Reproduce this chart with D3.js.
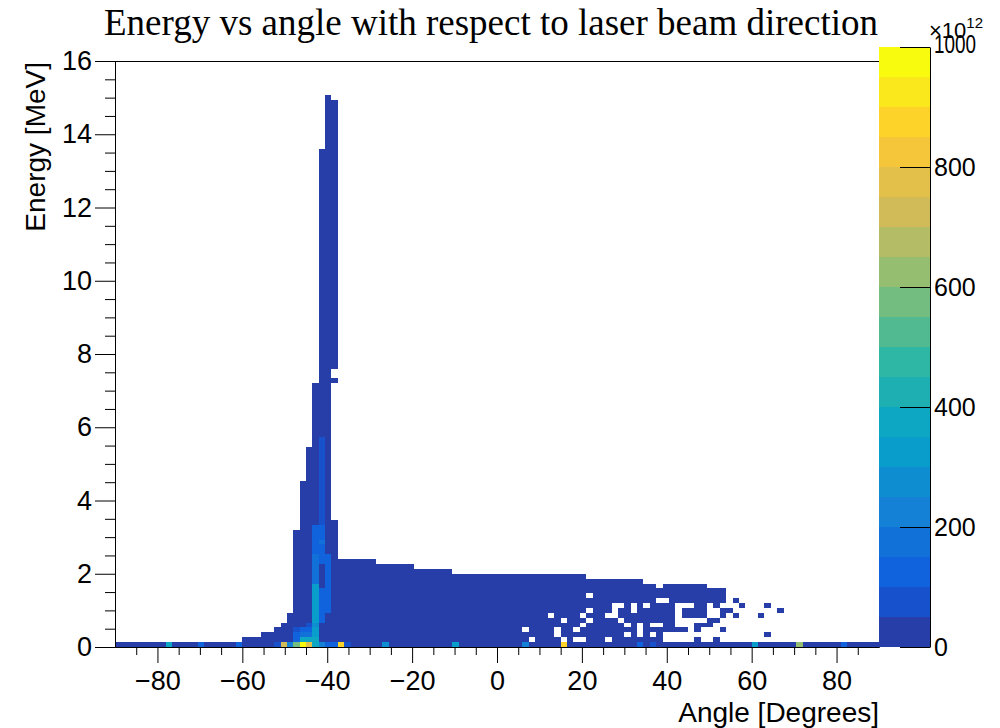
<!DOCTYPE html>
<html>
<head>
<meta charset="utf-8">
<script src="https://cdn.jsdelivr.net/npm/d3@7"></script>
<style>
body { margin: 0; background: #fff; }
svg text { font-family: "Liberation Sans", Arial, sans-serif; fill: #000; }
.axis path, .axis line { stroke: #000; }
</style>
</head>
<body>
<svg id="chart" width="1000" height="728"></svg>
<script>
// histogram binning
var angleMin = -90, angleMax = 90, angleStep = 1.5;
var energyMin = 0, energyMax = 16, energyStep = 0.1333;

// filled columns: [low edge of first angle bin, low edge of last angle bin, top energy MeV]
var columns = [
  [-90, -61.5, 0.15],
  [-60, -57, 0.31],
  [-55.5, -54, 0.44],
  [-52.5, -52.5, 0.57],
  [-51, -51, 0.71],
  [-49.5, -49.5, 0.96],
  [-48, -48, 3.21],
  [-46.5, -46.5, 4.55],
  [-45, -45, 5.48],
  [-43.5, -43.5, 7.22],
  [-42, -42, 13.6],
  [-40.5, -40.5, 15.08],
  [-39, -39, 14.96],
  [-37.5, -30, 2.42],
  [-28.5, -21, 2.29],
  [-19.5, -12, 2.15],
  [-10.5, 19.5, 2.02],
  [21, 33, 1.88],
  [34.5, 48, 1.75],
  [49.5, 52.5, 1.62],
  [54, 88.5, 0.15]
];

// vertical gaps inside a column: [angle, from MeV, to MeV]
var gaps = [
  [-38.25, 3.49, 3.76],
  [-38.25, 3.88, 7.1],
  [-38.25, 7.35, 7.5]
];

// single empty bins: [angle, energy]
var holes = [
  [6.75, 0.47], [8.25, 0.2], [12.75, 0.87], [14.25, 0.33], [14.25, 0.47],
  [15.75, 0.73], [15.75, 0.2], [18.75, 0.2], [20.25, 0.2], [18.75, 0.47],
  [20.25, 0.6], [20.25, 0.87], [21.75, 1.0], [21.75, 0.73], [21.75, 1.4],
  [26.25, 0.2], [26.25, 0.87], [27.75, 0.87], [27.75, 1.0], [27.75, 1.13],
  [29.25, 1.13], [29.25, 0.73], [30.75, 0.6], [30.75, 0.33], [32.25, 1.0],
  [32.25, 1.13], [33.75, 0.33], [33.75, 0.47], [33.75, 0.6], [35.25, 1.13],
  [36.75, 0.6], [36.75, 0.33], [38.25, 0.6], [38.25, 1.27], [38.25, 1.67],
  [39.75, 1.27], [39.75, 0.2], [39.75, 0.33], [41.25, 0.2], [41.25, 0.33],
  [42.75, 0.2], [42.75, 0.33], [42.75, 0.6], [42.75, 0.73], [42.75, 0.87],
  [42.75, 1.0], [42.75, 1.13], [44.25, 1.13], [45.75, 1.13],
  [44.25, 0.2], [44.25, 0.33], [44.25, 0.6], [44.25, 0.73],
  [45.75, 0.2], [45.75, 0.33], [45.75, 0.47], [45.75, 0.6], [45.75, 0.73],
  [47.25, 0.33], [47.25, 0.73], [48.75, 0.2], [48.75, 0.33], [48.75, 0.47], [48.75, 0.73],
  [50.25, 1.13], [50.25, 1.0], [50.25, 0.87], [50.25, 0.47], [50.25, 0.33], [50.25, 0.2],
  [51.75, 1.0], [51.75, 0.87], [51.75, 0.6], [51.75, 0.47], [51.75, 0.33],
  [53.25, 1.13], [53.25, 0.73], [53.25, 0.6], [53.25, 0.33], [53.25, 0.2]
];

// isolated filled bins outside the main body: [angle, energy]
var extraBins = [
  [54.75, 1.0], [56.25, 1.27], [57.75, 1.13], [56.25, 0.87],
  [62.25, 0.87], [63.75, 1.13], [66.75, 1.0], [63.75, 0.33]
];

// bins with a large content: [angle, energy, content x1e12]
var hotBins = [
  [-77.25, 0.07, 370], [-69.75, 0.07, 130], [-60.75, 0.07, 110],
  [-51.75, 0.07, 90], [-50.25, 0.07, 720], [-48.75, 0.07, 220],
  [-47.25, 0.07, 590], [-45.75, 0.07, 990], [-44.25, 0.07, 760],
  [-42.75, 0.07, 360], [-41.25, 0.07, 210], [-39.75, 0.07, 120],
  [-38.25, 0.07, 110], [-36.75, 0.07, 860], [-35.25, 0.07, 80],
  [-26.25, 0.07, 280], [-9.75, 0.07, 300], [6.75, 0.07, 230],
  [15.75, 0.07, 860], [33.75, 0.07, 120], [36.75, 0.07, 90],
  [60.75, 0.07, 340], [71.25, 0.07, 620], [81.75, 0.07, 120],
  [-47.25, 0.2, 120], [-45.75, 0.2, 370], [-44.25, 0.2, 360], [-42.75, 0.2, 350],
  [-47.25, 0.33, 120], [-45.75, 0.33, 170], [-44.25, 0.33, 170], [-42.75, 0.33, 330],
  [-47.25, 0.47, 80], [-45.75, 0.47, 120], [-44.25, 0.47, 110], [-42.75, 0.47, 300],
  [-44.25, 0.6, 80], [-42.75, 0.6, 280]
];
// runs of moderate content along the peak columns: [angle, from MeV, to MeV, content]
var warmRuns = [
  [-42.75, 0.7, 1.8, 300],
  [-42.75, 1.85, 2.6, 170],
  [-42.75, 2.65, 3.3, 120],
  [-41.25, 0.7, 1.5, 120],
  [-41.25, 2.3, 3.3, 120],
  [-41.25, 2.8, 2.9, 170],
  [-41.25, 3.35, 5.6, 70],
  [-39.75, 0.95, 2.4, 110]
];

// kBird palette stops, 20 contour levels
var birdStops = [0, 0.125, 0.25, 0.375, 0.5, 0.625, 0.75, 0.875, 1];
var birdRed = [0.2082, 0.0592, 0.0780, 0.0232, 0.1802, 0.5301, 0.8186, 0.9956, 0.9764];
var birdGreen = [0.1664, 0.3599, 0.5041, 0.6419, 0.7178, 0.7492, 0.7328, 0.7862, 0.9832];
var birdBlue = [0.5293, 0.8684, 0.8385, 0.7914, 0.6425, 0.4662, 0.3499, 0.1968, 0.0539];
var zMax = 1000, nContours = 20;
var paletteTicks = [0, 200, 400, 600, 800, 1000];

var svg = d3.select("#chart");
var margin = {top: 61, right: 121, bottom: 81, left: 115};
var width = 1000 - margin.left - margin.right,
    height = 728 - margin.top - margin.bottom;

var x = d3.scaleLinear().domain([angleMin, angleMax]).range([margin.left, margin.left + width]);
var y = d3.scaleLinear().domain([energyMin, energyMax]).range([margin.top + height, margin.top]);
var z = d3.scaleLinear().domain([0, zMax]).range([margin.top + height, 47]);

var bird = d3.scaleLinear()
  .domain(birdStops)
  .range(birdStops.map(function(s, i) {
    return d3.rgb(birdRed[i] * 255, birdGreen[i] * 255, birdBlue[i] * 255);
  }));

function bandColor(k) {
  var idx = Math.floor((k + 0.99) * 255 / nContours);
  return bird(idx / 254);
}
function valueColor(v) {
  var k = Math.min(nContours - 1, Math.floor(v / (zMax / nContours)));
  return bandColor(k);
}

// build the bin map
var bins = {};
function key(i, r) { return i + "_" + r; }
function binX(a) { return Math.floor((a - angleMin) / angleStep + 1e-6); }
function binY(e) { return Math.floor(e / energyStep); }

columns.forEach(function(c) {
  var i0 = binX(c[0]), i1 = binX(c[1]);
  var nr = Math.round(c[2] / energyStep);
  for (var i = i0; i <= i1; i++)
    for (var r = 0; r < nr; r++) bins[key(i, r)] = {i: i, r: r, v: 5};
});
gaps.forEach(function(g) {
  var i = binX(g[0]);
  for (var r = binY(g[1]); r <= binY(g[2]); r++) delete bins[key(i, r)];
});
holes.forEach(function(h) { delete bins[key(binX(h[0]), binY(h[1]))]; });
extraBins.forEach(function(b) {
  var i = binX(b[0]), r = binY(b[1]);
  bins[key(i, r)] = {i: i, r: r, v: 5};
});
warmRuns.forEach(function(w) {
  var i = binX(w[0]);
  for (var r = binY(w[1]); r <= binY(w[2]); r++)
    if (bins[key(i, r)]) bins[key(i, r)].v = w[3];
});
hotBins.forEach(function(h) {
  var i = binX(h[0]), r = binY(h[1]);
  bins[key(i, r)] = {i: i, r: r, v: h[2]};
});
var cells = Object.keys(bins).map(function(k) { return bins[k]; });

// cells
svg.append("g")
  .attr("shape-rendering", "crispEdges")
  .selectAll("rect")
  .data(cells)
  .enter().append("rect")
    .attr("x", function(d) { return x(angleMin + d.i * angleStep); })
    .attr("width", function(d) { return x(angleMin + (d.i + 1) * angleStep) - x(angleMin + d.i * angleStep); })
    .attr("y", function(d) { return y(Math.min(energyMax, (d.r + 1) * energyStep)); })
    .attr("height", function(d) { return y(d.r * energyStep) - y(Math.min(energyMax, (d.r + 1) * energyStep)); })
    .attr("fill", function(d) { return valueColor(d.v); });

// frame top line
svg.append("line")
  .attr("x1", margin.left).attr("x2", margin.left + width)
  .attr("y1", margin.top + 0.5).attr("y2", margin.top + 0.5)
  .attr("stroke", "#000");

var fontSize = 27;

// x axis
var xMajor = d3.range(-80, 81, 20);
var xMinor = d3.range(-85, 86, 5).filter(function(v) { return xMajor.indexOf(v) < 0; });
svg.append("g")
  .attr("class", "axis")
  .attr("transform", "translate(0," + (margin.top + height) + ")")
  .call(d3.axisBottom(x).tickValues(xMinor).tickSize(8).tickSizeOuter(0).tickFormat(""));
svg.append("g")
  .attr("class", "axis")
  .attr("transform", "translate(0," + (margin.top + height) + ")")
  .call(d3.axisBottom(x).tickValues(xMajor).tickSize(16).tickSizeOuter(0).tickPadding(8))
  .selectAll("text").style("font-size", fontSize + "px");

// y axis
var yMajor = d3.range(0, 17, 2);
var yMinor = d3.range(0, 16.01, 0.5).filter(function(v) { return v % 2 != 0; });
svg.append("g")
  .attr("class", "axis")
  .attr("transform", "translate(" + margin.left + ",0)")
  .call(d3.axisLeft(y).tickValues(yMinor).tickSize(10).tickSizeOuter(0).tickFormat(""));
svg.append("g")
  .attr("class", "axis")
  .attr("transform", "translate(" + margin.left + ",0)")
  .call(d3.axisLeft(y).tickValues(yMajor).tickSize(20).tickSizeOuter(0).tickPadding(3))
  .selectAll("text").style("font-size", fontSize + "px");

// palette
var palX = margin.left + width, palW = 51;
svg.append("g")
  .attr("shape-rendering", "crispEdges")
  .selectAll("rect")
  .data(d3.range(nContours))
  .enter().append("rect")
    .attr("x", palX)
    .attr("width", palW)
    .attr("y", function(k) { return z((k + 1) * zMax / nContours); })
    .attr("height", function(k) { return z(k * zMax / nContours) - z((k + 1) * zMax / nContours); })
    .attr("fill", function(k) { return bandColor(k); });
svg.append("g")
  .attr("class", "axis")
  .attr("transform", "translate(" + (palX + palW) + ",0)")
  .call(d3.axisLeft(z).tickValues(paletteTicks).tickSize(30).tickSizeOuter(0).tickFormat(""));
var palLabels = svg.append("g")
  .attr("class", "axis")
  .attr("transform", "translate(" + (palX + palW) + ",0)")
  .call(d3.axisRight(z).tickValues(paletteTicks).tickSize(0).tickPadding(4).tickFormat(d3.format("d")))
  .call(function(g) { g.select(".domain").remove(); });
palLabels.selectAll("text").style("font-size", "25px");
// the top label is squeezed under the exponent, as in the original
palLabels.selectAll("text")
  .filter(function(d) { return d == zMax; })
  .attr("y", -3)
  .attr("textLength", 42)
  .attr("lengthAdjust", "spacingAndGlyphs");

var expo = svg.append("text")
  .attr("x", palX + palW - 1)
  .attr("y", 38)
  .style("font-size", "22px")
  .text("\u00d710");
expo.append("tspan").attr("dy", -10).style("font-size", "15px").text("12");

// titles
svg.append("text")
  .attr("x", 491)
  .attr("y", 35)
  .attr("text-anchor", "middle")
  .style("font-family", "'Liberation Serif', 'Times New Roman', serif")
  .style("font-size", "37px")
  .text("Energy vs angle with respect to laser beam direction");

svg.append("text")
  .attr("x", margin.left + width)
  .attr("y", 722)
  .attr("text-anchor", "end")
  .style("font-size", "28px")
  .text("Angle [Degrees]");

svg.append("text")
  .attr("transform", "translate(45," + (margin.top + 1) + ") rotate(-90)")
  .attr("text-anchor", "end")
  .style("font-size", "28px")
  .text("Energy [MeV]");
</script>
</body>
</html>
